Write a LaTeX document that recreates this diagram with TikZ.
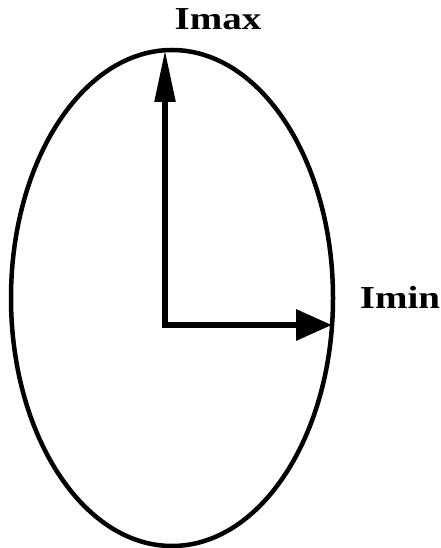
\documentclass[tikz,border=0pt]{standalone}
\usepackage{fontspec}
\newfontfamily\lblfont{Liberation Serif}
\usepackage{tikz}
\usetikzlibrary{arrows.meta,positioning}

\begin{document}
\begin{tikzpicture}[x=1pt, y=1pt,
    rim/.style={line width=4.5pt},
    axisup/.style={line width=5.5pt, -{Triangle[length=52pt, width=20pt]}},
    axisright/.style={line width=6.5pt, -{Triangle[length=36pt, width=30pt]}},
    lbl/.style={font=\lblfont\bfseries\fontsize{32}{32}\selectfont, inner sep=0pt,
        anchor=base, xscale=1.22, transform shape}]

    \useasboundingbox (0,0) rectangle (441,548);

    \draw[rim] (172,250) ellipse [x radius=161, y radius=248];

    \coordinate (orig) at (165,223);
    \coordinate (top) at (165,498);
    \coordinate (side) at (332,223);

    \draw[axisup] (orig) -- (top);
    \draw[axisright] ([xshift=-2.75pt]orig) -- (side);

    \node[lbl] (imax) at (218,518) {Imax};
    \node[lbl] (imin) at (400,239) {Imin};
\end{tikzpicture}
\end{document}
